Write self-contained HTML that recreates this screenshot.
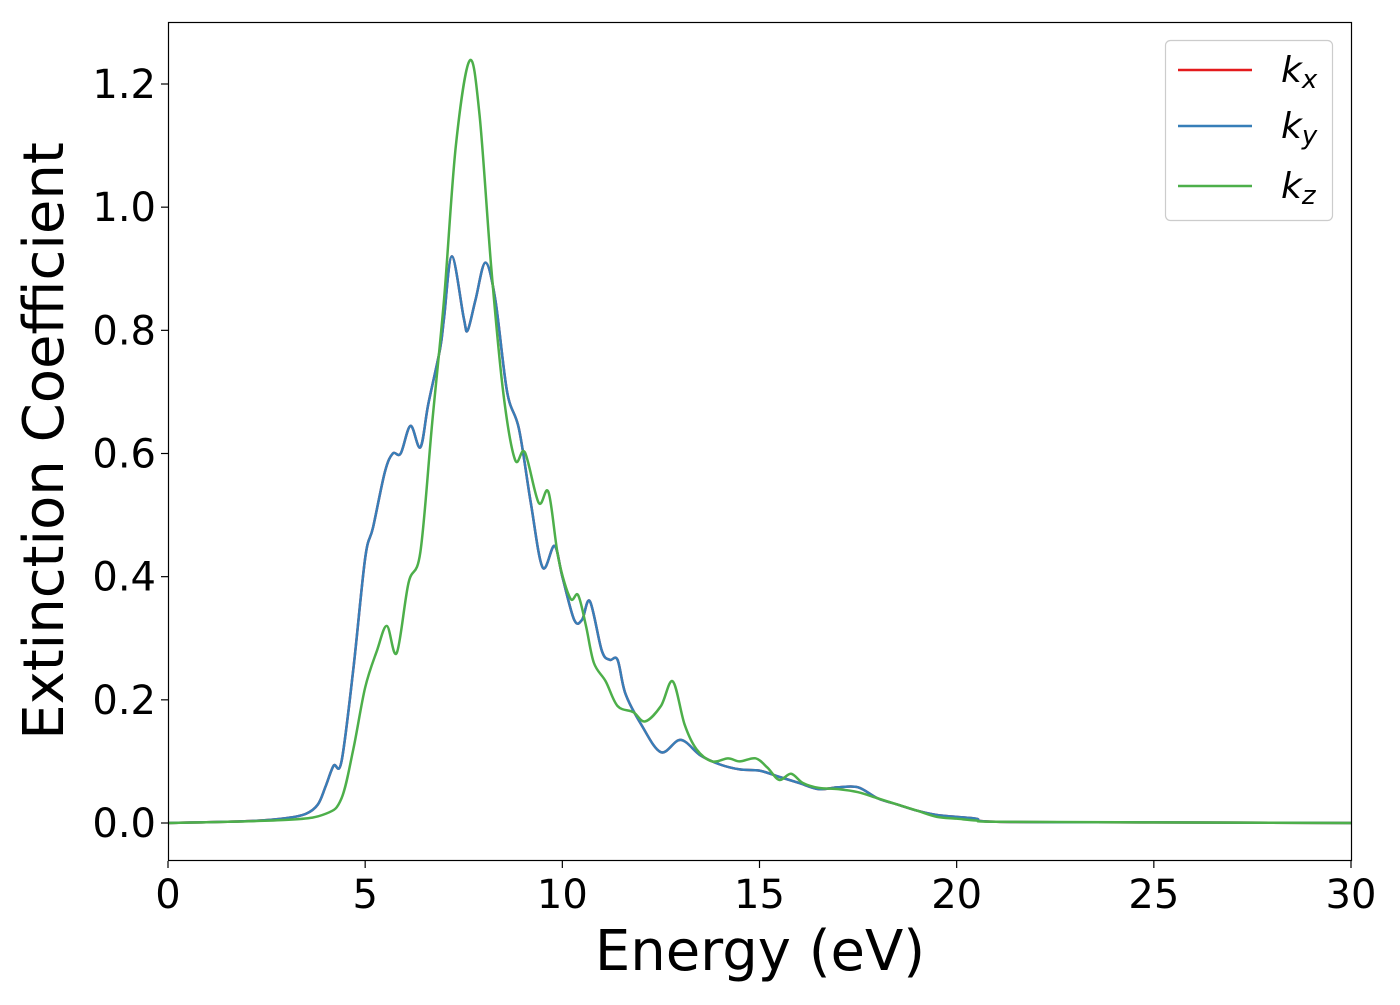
<!DOCTYPE html>
<html><head><meta charset="utf-8"><style>
body{margin:0;background:#fff}
svg text{font-family:"DejaVu Sans","Liberation Sans",sans-serif}
</style></head><body>
<svg id="chart" width="1400" height="1000">
<rect x="0" y="0" width="1400" height="1000" fill="#fff"/>
<g id="plot"></g>
<rect x="168.5" y="22.5" width="1183" height="838" fill="none" stroke="#000" stroke-width="1.2"/>
<g id="ticks"></g>
<text x="760" y="970" font-size="56" text-anchor="middle">Energy (eV)</text>
<text transform="translate(63,441) rotate(-90)" font-size="56" text-anchor="middle">Extinction Coefficient</text>
<g>
<rect x="1165.5" y="40.5" width="167" height="180" rx="5" fill="#fff" stroke="#ccc" stroke-width="1.2"/>
<g><line x1="1178" y1="70" x2="1252" y2="70" stroke="#e41a1c" stroke-width="2.5"/><text x="1281" y="82" font-size="36" font-style="italic">k<tspan font-size="26" dy="6">x</tspan></text></g>
<g><line x1="1178" y1="126" x2="1252" y2="126" stroke="#377eb8" stroke-width="2.5"/><text x="1281" y="138" font-size="36" font-style="italic">k<tspan font-size="26" dy="6">y</tspan></text></g>
<g><line x1="1178" y1="186" x2="1252" y2="186" stroke="#4daf4a" stroke-width="2.5"/><text x="1281" y="198" font-size="36" font-style="italic">k<tspan font-size="26" dy="6">z</tspan></text></g>
</g>
</svg>
<script>
const energyXY=[0,2,3,3.5,3.8,4.0,4.2,4.4,4.7,5.0,5.2,5.5,5.7,5.9,6.15,6.4,6.6,6.9,7.0,7.2,7.5,7.6,7.8,8.05,8.3,8.6,8.9,9.2,9.5,9.8,10.0,10.3,10.5,10.7,11.0,11.2,11.4,11.6,12.0,12.5,13.0,13.5,14.0,14.5,15.0,15.5,16.0,16.5,17.0,17.5,18.0,18.5,19.0,19.5,20.0,20.5,21.0,25,30];
const kx=[0,0.003,0.008,0.015,0.03,0.06,0.093,0.1,0.25,0.43,0.48,0.57,0.6,0.6,0.645,0.61,0.68,0.77,0.82,0.92,0.82,0.8,0.85,0.91,0.85,0.7,0.64,0.52,0.415,0.45,0.4,0.33,0.33,0.36,0.28,0.265,0.265,0.21,0.16,0.115,0.135,0.11,0.095,0.087,0.085,0.075,0.065,0.055,0.058,0.058,0.04,0.03,0.02,0.013,0.01,0.007,0.002,0.001,0];
const ky=kx.slice();
const energyZ=[0,3,4,4.4,4.7,5.0,5.3,5.55,5.8,6.1,6.4,6.7,7.0,7.3,7.65,7.9,8.2,8.5,8.8,9.05,9.4,9.65,9.9,10.2,10.4,10.6,10.8,11.1,11.4,11.8,12.1,12.5,12.8,13.1,13.4,13.8,14.2,14.5,14.9,15.2,15.5,15.8,16.1,16.5,17.0,17.5,18.0,18.5,19,19.5,20,20.5,21,25,30];
const kz=[0,0.005,0.015,0.04,0.12,0.22,0.28,0.32,0.276,0.39,0.44,0.65,0.85,1.1,1.238,1.15,0.9,0.7,0.59,0.602,0.52,0.537,0.43,0.365,0.37,0.32,0.26,0.23,0.19,0.18,0.165,0.19,0.23,0.16,0.12,0.1,0.105,0.1,0.105,0.09,0.07,0.08,0.065,0.057,0.055,0.05,0.04,0.03,0.02,0.01,0.007,0.004,0.002,0.001,0];
const xTicks=[0,5,10,15,20,25,30];
const yTicks=[0,0.2,0.4,0.6,0.8,1.0,1.2];
const NS="http://www.w3.org/2000/svg";
const X=v=>168+v*(1351-168)/30;
const Y=v=>823-v*(823-84)/1.2;
function pathFor(xs,ys){
  const p=xs.map((x,i)=>[X(x),Y(ys[i])]);
  let d="M"+p[0][0]+","+p[0][1];
  for(let i=0;i<p.length-1;i++){
    const p0=p[Math.max(0,i-1)],p1=p[i],p2=p[i+1],p3=p[Math.min(p.length-1,i+2)];
    const c1=[p1[0]+(p2[0]-p0[0])/6,p1[1]+(p2[1]-p0[1])/6];
    const c2=[p2[0]-(p3[0]-p1[0])/6,p2[1]-(p3[1]-p1[1])/6];
    d+=` C${c1[0]},${c1[1]} ${c2[0]},${c2[1]} ${p2[0]},${p2[1]}`;
  }
  return d;
}
const plot=document.getElementById('plot');
[[energyXY,kx,'#e41a1c','line-kx'],[energyXY,ky,'#377eb8','line-ky'],[energyZ,kz,'#4daf4a','line-kz']].forEach(s=>{
  const el=document.createElementNS(NS,'path');
  el.setAttribute('d',pathFor(s[0],s[1]));
  el.setAttribute('fill','none');el.setAttribute('stroke',s[2]);el.setAttribute('stroke-width','2.5');
  
  
  plot.appendChild(el);
});
const tg=document.getElementById('ticks');
xTicks.forEach(t=>{
  const l=document.createElementNS(NS,'line');
  l.setAttribute('x1',X(t));l.setAttribute('x2',X(t));l.setAttribute('y1',861);l.setAttribute('y2',868);l.setAttribute('stroke','#000');l.setAttribute('stroke-width','1.2');
  
  
  tg.appendChild(l);
  const tx=document.createElementNS(NS,'text');
  tx.setAttribute('x',X(t));tx.setAttribute('y',908);tx.setAttribute('font-size','40');tx.setAttribute('text-anchor','middle');
  tx.textContent=t;
  
  
  tg.appendChild(tx);
});
yTicks.forEach(t=>{
  const l=document.createElementNS(NS,'line');
  l.setAttribute('x1',161);l.setAttribute('x2',168);l.setAttribute('y1',Y(t));l.setAttribute('y2',Y(t));l.setAttribute('stroke','#000');l.setAttribute('stroke-width','1.2');
  
  
  tg.appendChild(l);
  const tx=document.createElementNS(NS,'text');
  tx.setAttribute('x',156);tx.setAttribute('y',Y(t)+14);tx.setAttribute('font-size','40');tx.setAttribute('text-anchor','end');
  tx.textContent=t.toFixed(1);
  
  
  tg.appendChild(tx);
});
</script>
</body></html>
